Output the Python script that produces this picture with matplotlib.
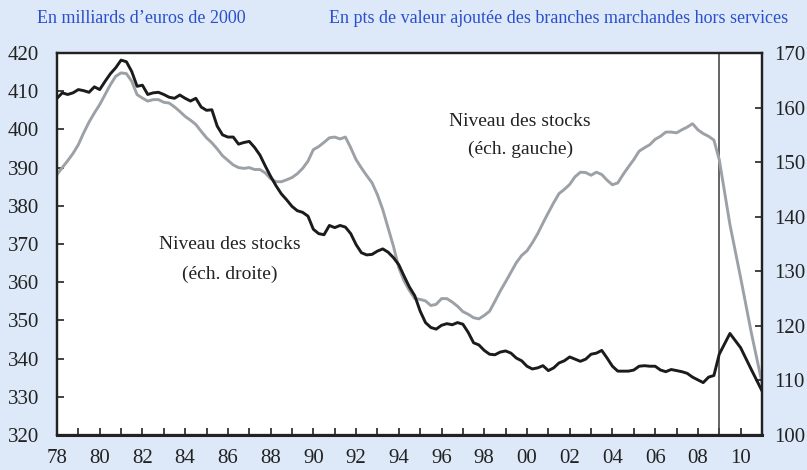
#!/usr/bin/env python3
"""
Niveau des stocks : double échelle (milliards d'euros 2000 / pts de VA).
"""

import matplotlib.pyplot as plt
import numpy as np


plt.rcParams["font.family"] = ["Liberation Serif", "DejaVu Serif"]

# quarterly data 1978Q1 - 2008Q4, then half-year points 2009 - 2011
years_q = 1978 + np.arange(124) / 4
years_tail = [2009.0, 2009.5, 2010.0, 2010.5, 2011.0]

# stocks, left scale (milliards d'euros de 2000)
stocks_left = [
    388.2, 390.0, 391.8, 393.7,
    396.0, 399.1, 401.9, 404.3,
    406.5, 409.1, 411.7, 413.9,
    414.8, 414.6, 412.6, 409.1,
    408.2, 407.4, 407.8, 407.8,
    407.1, 406.9, 405.9, 404.7,
    403.4, 402.4, 401.3, 399.5,
    397.8, 396.5, 394.9, 393.1,
    391.9, 390.7, 390.0, 389.8,
    390.0, 389.5, 389.5, 388.6,
    387.1, 386.3, 386.3, 386.8,
    387.4, 388.4, 389.8, 391.7,
    394.7, 395.5, 396.6, 397.8,
    398.0, 397.5, 398.0, 395.2,
    392.1, 389.9, 387.9, 386.0,
    382.9, 379.0, 374.2, 369.4,
    363.8, 360.3, 357.8, 355.7,
    355.5, 355.1, 353.9, 354.2,
    355.7, 355.7, 354.8, 353.7,
    352.3, 351.6, 350.7, 350.4,
    351.3, 352.4, 355.0, 357.7,
    360.1, 362.6, 365.1, 367.0,
    368.2, 370.3, 372.7, 375.5,
    378.2, 380.8, 383.2, 384.3,
    385.6, 387.6, 388.8, 388.7,
    388.0, 388.8, 388.2, 386.7,
    385.5, 386.0, 388.2, 390.2,
    392.1, 394.3, 395.2, 396.0,
    397.4, 398.2, 399.3, 399.3,
    399.1, 399.9, 400.6, 401.5,
    399.9, 398.9, 398.2, 397.2,
]
stocks_left_tail = [392.1, 375.1, 361.2, 346.8, 333.7]

# stocks, right scale (pts de valeur ajoutée)
stocks_right = [
    161.7, 162.7, 162.4, 162.7,
    163.3, 163.1, 162.8, 163.8,
    163.3, 164.8, 166.2, 167.3,
    168.7, 168.4, 166.6, 163.9,
    164.1, 162.4, 162.7, 162.8,
    162.4, 161.9, 161.7, 162.3,
    161.7, 161.2, 161.7, 160.1,
    159.5, 159.6, 156.6, 155.0,
    154.6, 154.6, 153.3, 153.6,
    153.8, 152.7, 151.3, 149.3,
    147.4, 145.7, 144.2, 143.1,
    141.9, 141.1, 140.8, 140.1,
    137.7, 136.9, 136.7, 138.4,
    138.0, 138.4, 138.1, 136.9,
    134.9, 133.4, 133.0, 133.1,
    133.7, 134.1, 133.5, 132.5,
    131.2, 129.1, 127.1, 125.5,
    122.7, 120.6, 119.7, 119.4,
    120.1, 120.4, 120.2, 120.6,
    120.3, 118.8, 116.9, 116.5,
    115.5, 114.8, 114.7, 115.2,
    115.4, 115.0, 114.1, 113.6,
    112.6, 112.1, 112.3, 112.7,
    111.8, 112.3, 113.2, 113.6,
    114.3, 113.9, 113.5, 113.9,
    114.8, 115.0, 115.5, 114.1,
    112.6, 111.7, 111.7, 111.7,
    111.9, 112.6, 112.7, 112.6,
    112.6, 111.9, 111.6, 112.0,
    111.8, 111.6, 111.3, 110.6,
    110.1, 109.6, 110.6, 110.9,
]
stocks_right_tail = [114.8, 118.6, 116.0, 112.0, 108.1]

xtick_years = list(range(1978, 2011, 2))
xtick_labels = [f"{y % 100:02d}" for y in xtick_years]
left_ticks = list(range(320, 421, 10))
right_ticks = list(range(100, 171, 10))

BG = "#DDE9F8"
BLUE = "#2A4FCB"
GREY = "#9CA1A7"
BLACK = "#1B1B1B"


def main():
    fig = plt.figure(figsize=(8.07, 4.70), dpi=100)
    fig.patch.set_facecolor(BG)
    ax = fig.add_axes([0.0706, 0.0745, 0.8736, 0.8127])
    ax.set_facecolor("white")
    ax2 = ax.twinx()

    x = list(years_q) + years_tail
    ax.plot(x, stocks_left + stocks_left_tail, color=GREY, lw=2.1, zorder=3)
    ax2.plot(x, stocks_right + stocks_right_tail, color=BLACK, lw=2.1, zorder=3)
    ax.axvline(2009.0, color="#4a4a4a", lw=1.2, zorder=2)

    ax.set_xlim(1978, 2011)
    ax.set_ylim(320, 420)
    ax2.set_ylim(100, 170)

    ax.set_xticks(xtick_years)
    ax.set_xticklabels(xtick_labels)
    ax.set_xticks(range(1979, 2011, 2), minor=True)
    ax.set_yticks(left_ticks)
    ax2.set_yticks(right_ticks)

    ax.tick_params(axis="x", which="both", direction="in", length=5, width=1.2,
                   labelsize=15, pad=10, colors="#222222")
    ax.tick_params(axis="y", direction="in", length=5, width=1.2,
                   labelsize=15, pad=13, colors="#222222")
    ax2.tick_params(axis="y", direction="in", length=5, width=1.2,
                    labelsize=15, pad=9, colors="#222222")

    for a in (ax, ax2):
        for side, sp in a.spines.items():
            sp.set_color("#222222")
            sp.set_linewidth(1.6)
    ax.spines["bottom"].set_linewidth(2.2)

    ax.text(0.245, 0.499, "Niveau des stocks", transform=ax.transAxes,
            ha="center", va="center", fontsize=14, color="#222222")
    ax.text(0.245, 0.420, "(éch. droite)", transform=ax.transAxes,
            ha="center", va="center", fontsize=14, color="#222222")
    ax.text(0.657, 0.820, "Niveau des stocks", transform=ax.transAxes,
            ha="center", va="center", fontsize=14, color="#222222")
    ax.text(0.657, 0.747, "(éch. gauche)", transform=ax.transAxes,
            ha="center", va="center", fontsize=14, color="#222222")

    fig.text(0.175, 0.960, "En milliards d\u2019euros de 2000", ha="center",
             va="center", fontsize=13, color=BLUE)
    fig.text(0.692, 0.960, "En pts de valeur ajoutée des branches marchandes hors services",
             ha="center", va="center", fontsize=13, color=BLUE)

    fig.savefig("out.png", dpi=100, facecolor=fig.get_facecolor())


if __name__ == "__main__":
    main()
